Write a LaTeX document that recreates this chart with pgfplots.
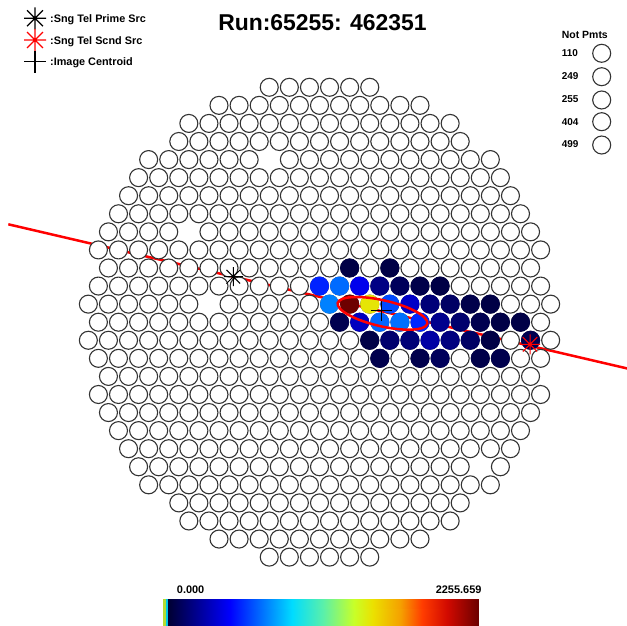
\documentclass[border=0pt]{standalone}
\usepackage{pgfplots}
\pgfplotsset{compat=1.18}
\usepackage{fontspec}
\setmainfont{Liberation Sans}
\pgfdeclareplotmark{rootstar}{%
  \pgfpathmoveto{\pgfqpoint{-\pgfplotmarksize}{0pt}}\pgfpathlineto{\pgfqpoint{\pgfplotmarksize}{0pt}}%
  \pgfpathmoveto{\pgfqpoint{0pt}{-\pgfplotmarksize}}\pgfpathlineto{\pgfqpoint{0pt}{\pgfplotmarksize}}%
  \pgfpathmoveto{\pgfqpoint{-0.72\pgfplotmarksize}{-0.72\pgfplotmarksize}}\pgfpathlineto{\pgfqpoint{0.72\pgfplotmarksize}{0.72\pgfplotmarksize}}%
  \pgfpathmoveto{\pgfqpoint{-0.72\pgfplotmarksize}{0.72\pgfplotmarksize}}\pgfpathlineto{\pgfqpoint{0.72\pgfplotmarksize}{-0.72\pgfplotmarksize}}%
  \pgfusepathqstroke
  \pgfpathcircle{\pgfpointorigin}{0.17\pgfplotmarksize}\pgfusepathqfill}
\pgfdeclareplotmark{hillas}{%
  \pgfpathellipse{\pgfpointorigin}{\pgfpointpolar{-13}{46bp}}{\pgfpointpolar{77}{13bp}}\pgfusepathqstroke}
\begin{document}
\begin{tikzpicture}
\begin{axis}[
  width=627bp, height=626bp, scale only axis,
  xmin=-15.896, xmax=15.299, ymin=-16.812, ymax=17.831,
  hide axis, clip=false,
  point meta min=0, point meta max=2255.659,
  colormap={veritas}{rgb255(0pt)=(0,0,50); rgb255(20pt)=(0,0,255); rgb255(40pt)=(0,220,255); rgb255(50pt)=(90,240,170); rgb255(60pt)=(200,255,40); rgb255(66pt)=(235,225,0); rgb255(75pt)=(245,160,0); rgb255(82pt)=(255,60,0); rgb255(90pt)=(210,10,0); rgb255(100pt)=(110,0,0)},
]
\coordinate (bl) at (rel axis cs:0,0);
\coordinate (tr) at (rel axis cs:1,1);
% ---- camera pixels (x in pixel pitch, y in rows) ----
\addplot[only marks, mark=*, mark size=9bp, mark options={fill=white, draw=black!80, line width=1.1bp}] coordinates {
(-2.5,13)(-1.5,13)(-0.5,13)(0.5,13)(1.5,13)(2.5,13)
(-5,12)(-4,12)(-3,12)(-2,12)(-1,12)(0,12)(1,12)(2,12)(3,12)(4,12)(5,12)
(-6.5,11)(-5.5,11)(-4.5,11)(-3.5,11)(-2.5,11)(-1.5,11)(-0.5,11)(0.5,11)(1.5,11)(2.5,11)(3.5,11)(4.5,11)(5.5,11)(6.5,11)
(-7,10)(-6,10)(-5,10)(-4,10)(-3,10)(-2,10)(-1,10)(0,10)(1,10)(2,10)(3,10)(4,10)(5,10)(6,10)(7,10)
(-8.5,9)(-7.5,9)(-6.5,9)(-5.5,9)(-4.5,9)(-3.5,9)(-1.5,9)(-0.5,9)(0.5,9)(1.5,9)(2.5,9)(3.5,9)(4.5,9)(5.5,9)(6.5,9)(7.5,9)(8.5,9)
(-9,8)(-8,8)(-7,8)(-6,8)(-5,8)(-4,8)(-3,8)(-2,8)(-1,8)(0,8)(1,8)(2,8)(3,8)(4,8)(5,8)(6,8)(7,8)(8,8)(9,8)
(-9.5,7)(-8.5,7)(-7.5,7)(-6.5,7)(-5.5,7)(-4.5,7)(-3.5,7)(-2.5,7)(-1.5,7)(-0.5,7)(0.5,7)(1.5,7)(2.5,7)(3.5,7)(4.5,7)(5.5,7)(6.5,7)(7.5,7)(8.5,7)(9.5,7)
(-10,6)(-9,6)(-8,6)(-7,6)(-6,6)(-5,6)(-4,6)(-3,6)(-2,6)(-1,6)(0,6)(1,6)(2,6)(3,6)(4,6)(5,6)(6,6)(7,6)(8,6)(9,6)(10,6)
(-10.5,5)(-9.5,5)(-8.5,5)(-7.5,5)(-5.5,5)(-4.5,5)(-3.5,5)(-2.5,5)(-1.5,5)(-0.5,5)(0.5,5)(1.5,5)(2.5,5)(3.5,5)(4.5,5)(5.5,5)(6.5,5)(7.5,5)(8.5,5)(9.5,5)(10.5,5)
(-11,4)(-10,4)(-9,4)(-8,4)(-7,4)(-6,4)(-5,4)(-4,4)(-3,4)(-2,4)(-1,4)(0,4)(1,4)(2,4)(3,4)(4,4)(5,4)(6,4)(7,4)(8,4)(9,4)(10,4)(11,4)
(-10.5,3)(-9.5,3)(-8.5,3)(-7.5,3)(-6.5,3)(-5.5,3)(-4.5,3)(-3.5,3)(-2.5,3)(-1.5,3)(-0.5,3)(0.5,3)(1.5,3)(2.5,3)(3.5,3)(4.5,3)(5.5,3)(6.5,3)(7.5,3)(8.5,3)(9.5,3)(10.5,3)
(-11,2)(-10,2)(-9,2)(-8,2)(-7,2)(-6,2)(-5,2)(-4,2)(-3,2)(-2,2)(-1,2)(0,2)(1,2)(2,2)(3,2)(4,2)(5,2)(6,2)(7,2)(8,2)(9,2)(10,2)(11,2)
(-11.5,1)(-10.5,1)(-9.5,1)(-8.5,1)(-7.5,1)(-6.5,1)(-4.5,1)(-3.5,1)(-2.5,1)(-1.5,1)(-0.5,1)(0.5,1)(1.5,1)(2.5,1)(3.5,1)(4.5,1)(5.5,1)(6.5,1)(7.5,1)(8.5,1)(9.5,1)(10.5,1)(11.5,1)
(-11,0)(-10,0)(-9,0)(-8,0)(-7,0)(-6,0)(-5,0)(-4,0)(-3,0)(-2,0)(-1,0)(0,0)(1,0)(2,0)(3,0)(4,0)(5,0)(6,0)(7,0)(8,0)(9,0)(10,0)(11,0)
(-11.5,-1)(-10.5,-1)(-9.5,-1)(-8.5,-1)(-7.5,-1)(-6.5,-1)(-5.5,-1)(-4.5,-1)(-3.5,-1)(-2.5,-1)(-1.5,-1)(-0.5,-1)(0.5,-1)(1.5,-1)(2.5,-1)(3.5,-1)(4.5,-1)(5.5,-1)(6.5,-1)(7.5,-1)(8.5,-1)(9.5,-1)(10.5,-1)(11.5,-1)
(-11,-2)(-10,-2)(-9,-2)(-8,-2)(-7,-2)(-6,-2)(-5,-2)(-4,-2)(-3,-2)(-2,-2)(-1,-2)(0,-2)(1,-2)(2,-2)(3,-2)(4,-2)(5,-2)(6,-2)(7,-2)(8,-2)(9,-2)(10,-2)(11,-2)
(-10.5,-3)(-9.5,-3)(-8.5,-3)(-7.5,-3)(-6.5,-3)(-5.5,-3)(-4.5,-3)(-3.5,-3)(-2.5,-3)(-1.5,-3)(-0.5,-3)(0.5,-3)(1.5,-3)(2.5,-3)(3.5,-3)(4.5,-3)(5.5,-3)(6.5,-3)(7.5,-3)(8.5,-3)(9.5,-3)(10.5,-3)
(-11,-4)(-10,-4)(-9,-4)(-8,-4)(-7,-4)(-6,-4)(-5,-4)(-4,-4)(-3,-4)(-2,-4)(-1,-4)(0,-4)(1,-4)(2,-4)(3,-4)(4,-4)(5,-4)(6,-4)(7,-4)(8,-4)(9,-4)(10,-4)(11,-4)
(-10.5,-5)(-9.5,-5)(-8.5,-5)(-7.5,-5)(-6.5,-5)(-5.5,-5)(-4.5,-5)(-3.5,-5)(-2.5,-5)(-1.5,-5)(-0.5,-5)(0.5,-5)(1.5,-5)(2.5,-5)(3.5,-5)(4.5,-5)(5.5,-5)(6.5,-5)(7.5,-5)(8.5,-5)(9.5,-5)(10.5,-5)
(-10,-6)(-9,-6)(-8,-6)(-7,-6)(-6,-6)(-5,-6)(-4,-6)(-3,-6)(-2,-6)(-1,-6)(0,-6)(1,-6)(2,-6)(3,-6)(4,-6)(5,-6)(6,-6)(7,-6)(8,-6)(9,-6)(10,-6)
(-9.5,-7)(-8.5,-7)(-7.5,-7)(-6.5,-7)(-5.5,-7)(-4.5,-7)(-3.5,-7)(-2.5,-7)(-1.5,-7)(-0.5,-7)(0.5,-7)(1.5,-7)(2.5,-7)(3.5,-7)(4.5,-7)(5.5,-7)(6.5,-7)(7.5,-7)(8.5,-7)(9.5,-7)
(-9,-8)(-8,-8)(-7,-8)(-6,-8)(-5,-8)(-4,-8)(-3,-8)(-2,-8)(-1,-8)(0,-8)(1,-8)(2,-8)(3,-8)(4,-8)(5,-8)(6,-8)(7,-8)(9,-8)
(-8.5,-9)(-7.5,-9)(-6.5,-9)(-5.5,-9)(-4.5,-9)(-3.5,-9)(-2.5,-9)(-1.5,-9)(-0.5,-9)(0.5,-9)(1.5,-9)(2.5,-9)(3.5,-9)(4.5,-9)(5.5,-9)(6.5,-9)(7.5,-9)(8.5,-9)
(-7,-10)(-6,-10)(-5,-10)(-4,-10)(-3,-10)(-2,-10)(-1,-10)(0,-10)(1,-10)(2,-10)(3,-10)(4,-10)(5,-10)(6,-10)(7,-10)
(-6.5,-11)(-5.5,-11)(-4.5,-11)(-3.5,-11)(-2.5,-11)(-1.5,-11)(-0.5,-11)(0.5,-11)(1.5,-11)(2.5,-11)(3.5,-11)(4.5,-11)(5.5,-11)(6.5,-11)
(-5,-12)(-4,-12)(-3,-12)(-2,-12)(-1,-12)(0,-12)(1,-12)(2,-12)(3,-12)(4,-12)(5,-12)
(-2.5,-13)(-1.5,-13)(-0.5,-13)(0.5,-13)(1.5,-13)(2.5,-13)
};
% ---- pixels with signal ----
\addplot[scatter, only marks, mark=*, mark size=9bp, point meta=explicit,
  scatter/use mapped color={draw=mapped color, fill=mapped color},
  every mark/.append style={line width=1.1bp}] coordinates {
(1.5,3)[45] (3.5,3)[45]
(0,2)[520] (1,2)[670] (2,2)[410] (3,2)[180] (4,2)[90] (5,2)[55] (6,2)[45]
(0.5,1)[715] (1.5,1)[2255.659] (2.5,1)[1470] (3.5,1)[600] (4.5,1)[330] (5.5,1)[155] (6.5,1)[110] (7.5,1)[55] (8.5,1)[45]
(1,0)[66] (2,0)[310] (3,0)[660] (4,0)[680] (5,0)[530] (6,0)[200] (7,0)[130] (8,0)[65] (9,0)[45] (10,0)[45]
(2.5,-1)[45] (3.5,-1)[130] (4.5,-1)[150] (5.5,-1)[250] (6.5,-1)[170] (7.5,-1)[110] (8.5,-1)[45] (10.5,-1)[66]
(3,-2)[60] (5,-2)[60] (6,-2)[90] (8,-2)[50] (9,-2)[60]
};
% ---- centroid (under the red line), image axis line and Hillas ellipse ----
\addplot[only marks, mark=+, mark size=10.5bp, mark options={draw=black, line width=1bp}] coordinates {(3.109,0.62)};
\addplot[red, line width=2.5bp, no marks] coordinates {(-15.483,5.418) (15.299,-2.557)};
\addplot[only marks, mark=hillas, mark options={draw=red, line width=2.5bp}] coordinates {(3.134,0.49)};
% ---- sources ----
\addplot[only marks, mark=rootstar, mark size=9.5bp, mark options={draw=black, fill=black, line width=1bp}] coordinates {(-4.289,2.518)};
\addplot[only marks, mark=rootstar, mark size=10bp, mark options={draw=red, fill=red, line width=1bp}] coordinates {(10.473,-1.223)};
% ---- legend (top left) ----
\addplot[only marks, mark=rootstar, mark size=11bp, mark options={draw=black, fill=black, line width=1.2bp}] coordinates {(-14.154,16.818)};
\addplot[only marks, mark=rootstar, mark size=11bp, mark options={draw=red, fill=red, line width=1.2bp}] coordinates {(-14.154,15.617)};
\addplot[only marks, mark=+, mark size=11bp, mark options={draw=black, line width=1.2bp}] coordinates {(-14.154,14.416)};
\node[anchor=base west, font=\fontsize{10.9}{12}\selectfont\bfseries, inner sep=0pt] at (axis cs:-13.408,16.574) {:Sng Tel Prime Src};
\node[anchor=base west, font=\fontsize{10.9}{12}\selectfont\bfseries, inner sep=0pt] at (axis cs:-13.408,15.379) {:Sng Tel Scnd Src};
\node[anchor=base west, font=\fontsize{10.9}{12}\selectfont\bfseries, inner sep=0pt] at (axis cs:-13.408,14.179) {:Image Centroid};
% ---- title ----
\node[anchor=center, font=\fontsize{23}{26}\selectfont\bfseries, inner sep=0pt] at (axis cs:0.149,16.585) {Run:65255: 462351};
% ---- Not Pmts list ----
\node[anchor=base west, font=\fontsize{10.5}{12}\selectfont\bfseries, inner sep=0pt] at (axis cs:12.05,15.711) {Not Pmts};
\node[anchor=base west, font=\fontsize{10}{12}\selectfont\bfseries, inner sep=0pt] at (axis cs:12.05,14.693) {110};
\node[anchor=base west, font=\fontsize{10}{12}\selectfont\bfseries, inner sep=0pt] at (axis cs:12.05,13.442) {249};
\node[anchor=base west, font=\fontsize{10}{12}\selectfont\bfseries, inner sep=0pt] at (axis cs:12.05,12.147) {255};
\node[anchor=base west, font=\fontsize{10}{12}\selectfont\bfseries, inner sep=0pt] at (axis cs:12.05,10.913) {404};
\node[anchor=base west, font=\fontsize{10}{12}\selectfont\bfseries, inner sep=0pt] at (axis cs:12.05,9.657) {499};
\addplot[only marks, mark=*, mark size=9bp, mark options={fill=white, draw=black!80, line width=1.1bp}] coordinates {(14.04,14.881) (14.04,13.586) (14.04,12.297) (14.04,11.096) (14.04,9.806)};
% ---- colour scale ----
\addplot[surf, shader=interp, point meta=explicit, mesh/cols=2] coordinates {
(-7.537,-15.335)[0] (7.900,-15.335)[2255.659]
(-7.537,-17.5)[0] (7.900,-17.5)[2255.659]
};
\draw[color={rgb,255:red,180;green,220;blue,50}, line width=2.4bp] (axis cs:-7.711,-15.335) -- (axis cs:-7.711,-17.5);
\draw[color={rgb,255:red,0;green,200;blue,230}, line width=1.8bp] (axis cs:-7.587,-15.335) -- (axis cs:-7.587,-17.5);
\node[anchor=base west, font=\fontsize{11}{12}\selectfont\bfseries, inner sep=0pt] at (axis cs:-7.104,-15.003) {0.000};
\node[anchor=base east, font=\fontsize{11}{12}\selectfont\bfseries, inner sep=0pt] at (axis cs:8.070,-15.003) {2255.659};
\end{axis}
\pgfresetboundingbox
\path[use as bounding box] (bl) rectangle (tr);
\end{tikzpicture}
\end{document}
